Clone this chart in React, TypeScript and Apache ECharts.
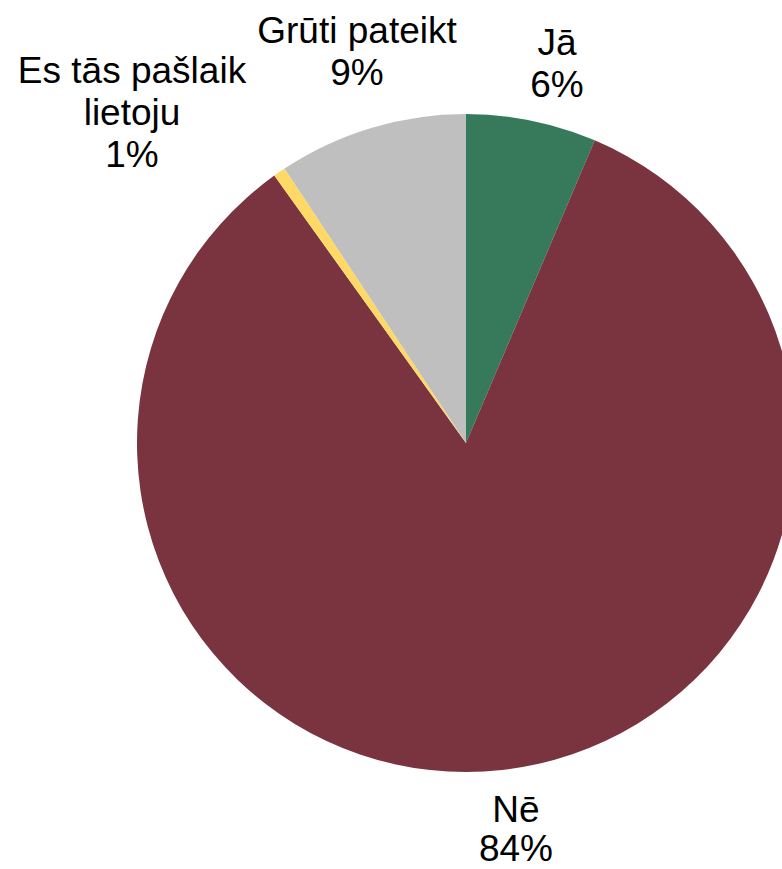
import React, { useEffect, useRef } from "react";
import * as echarts from "echarts";

const categories = ["Jā", "Nē", "Es tās pašlaik lietoju", "Grūti pateikt"];
const labelTexts = ["Jā", "Nē", "Es tās pašlaik\nlietoju", "Grūti pateikt"];
const values = [6.4, 83.7, 0.6, 9.3];
const colors = ["#377a5b", "#79343f", "#ffd966", "#bfbfbf"];
// label block centres (px) and line heights
const labelCenters: [number, number][] = [
  [557, 63],
  [516, 829],
  [132, 112],
  [357, 51],
];
const labelLineHeights = [42, 39, 42, 42];

export default function App() {
  const ref = useRef<HTMLDivElement>(null);
  useEffect(() => {
    if (!ref.current) return;
    const chart = echarts.init(ref.current, undefined, { renderer: "svg" });
    chart.setOption({
      animation: false,
      backgroundColor: "#ffffff",
      series: [
        {
          type: "pie",
          center: [466, 443],
          radius: 329,
          startAngle: 90,
          clockwise: true,
          avoidLabelOverlap: false,
          data: categories.map((c, i) => ({
            name: c,
            value: values[i],
            itemStyle: { color: colors[i] },
            label: { lineHeight: labelLineHeights[i] },
          })),
          label: {
            show: true,
            position: "outside",
            formatter: (p: any) =>
              `${labelTexts[p.dataIndex]}\n${Math.round(p.value)}%`,
            fontFamily: "Liberation Sans, Arial, sans-serif",
            fontSize: 37,
            lineHeight: 42,
            color: "#000000",
            align: "center",
          },
          labelLine: { show: false },
          labelLayout: (p: any) => ({
            x: labelCenters[p.dataIndex][0],
            y: labelCenters[p.dataIndex][1],
            align: "center",
            verticalAlign: "middle",
          }),
          emphasis: { disabled: true },
        },
      ],
    });
    return () => chart.dispose();
  }, []);
  return (
    <div
      ref={ref}
      style={{ position: "fixed", left: 0, top: 0, width: 782, height: 869 }}
    />
  );
}
